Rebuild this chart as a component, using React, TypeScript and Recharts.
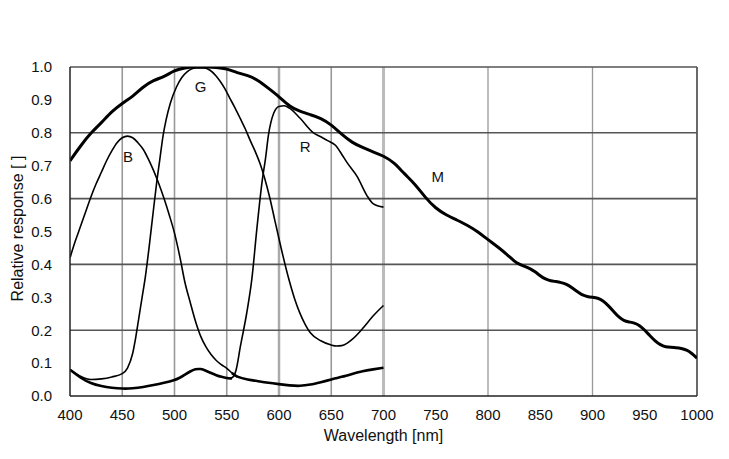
import React from 'react';
import { LineChart, Line, XAxis, YAxis, ReferenceLine, ReferenceDot } from 'recharts';

type P = { nm: number; v: number };
const mk = (rows: number[][]): P[] => rows.map(([nm, v]) => ({ nm, v }));

const xTicks = [400, 450, 500, 550, 600, 650, 700, 750, 800, 850, 900, 950, 1000];
const yTicks = [0, 0.1, 0.2, 0.3, 0.4, 0.5, 0.6, 0.7, 0.8, 0.9, 1.0];
const hGrid = [0.2, 0.4, 0.6, 0.8, 1.0];
const vGridLeft = [450, 500, 550, 600, 650];
const vGridRight = [800, 900];

const monoM = mk([
  [400, 0.715], [410, 0.76], [420, 0.8], [430, 0.83], [440, 0.865], [450, 0.89], [460, 0.91],
  [470, 0.94], [480, 0.96], [490, 0.97], [500, 0.99], [510, 0.998], [520, 1.0], [530, 1.0],
  [540, 0.999], [550, 0.995], [560, 0.982], [570, 0.975], [580, 0.96], [590, 0.935], [600, 0.91],
  [610, 0.88], [620, 0.865], [630, 0.855], [640, 0.845], [650, 0.825], [660, 0.795], [670, 0.77],
  [680, 0.755], [690, 0.742], [700, 0.73], [710, 0.71], [720, 0.675], [730, 0.645], [740, 0.603],
  [750, 0.57], [760, 0.55], [770, 0.535], [780, 0.52], [790, 0.5], [800, 0.475], [810, 0.452],
  [820, 0.425], [825, 0.41], [830, 0.4], [835, 0.394], [840, 0.388], [845, 0.378], [850, 0.365],
  [855, 0.355], [860, 0.35], [865, 0.348], [870, 0.345], [875, 0.34], [880, 0.33], [885, 0.318],
  [890, 0.307], [895, 0.302], [900, 0.3], [905, 0.298], [910, 0.29], [915, 0.275], [920, 0.258],
  [925, 0.24], [930, 0.229], [935, 0.225], [940, 0.222], [945, 0.215], [950, 0.2], [955, 0.183],
  [960, 0.167], [965, 0.155], [970, 0.149], [975, 0.148], [980, 0.147], [985, 0.145], [990, 0.14],
  [995, 0.13], [1000, 0.115],
]);

const greenCurve = mk([
  [400, 0.08], [410, 0.06], [420, 0.05], [430, 0.052], [440, 0.058], [450, 0.068], [455, 0.085],
  [460, 0.13], [463, 0.18], [466, 0.24], [469, 0.3], [472, 0.36], [476, 0.46], [480, 0.57],
  [483, 0.65], [486, 0.72], [489, 0.79], [492, 0.84], [496, 0.89], [502, 0.94], [507, 0.968],
  [512, 0.985], [520, 0.997], [528, 0.997], [534, 0.99], [540, 0.972], [544, 0.955], [548, 0.935],
  [553, 0.905], [558, 0.875], [563, 0.843], [568, 0.81], [572, 0.78], [577, 0.745], [582, 0.705],
  [586, 0.665], [591, 0.605], [596, 0.534], [602, 0.45], [609, 0.36], [615, 0.295], [620, 0.252],
  [625, 0.218], [630, 0.192], [640, 0.168], [650, 0.155], [655, 0.152], [660, 0.153], [665, 0.16],
  [670, 0.172], [680, 0.205], [690, 0.243], [700, 0.275],
]);

const blueMain = mk([
  [400, 0.42], [405, 0.47], [410, 0.515], [415, 0.56], [420, 0.605], [425, 0.645], [430, 0.68],
  [435, 0.715], [440, 0.745], [445, 0.77], [450, 0.785], [455, 0.79], [460, 0.785], [465, 0.77],
  [470, 0.75], [475, 0.72], [480, 0.685], [485, 0.645], [490, 0.6], [495, 0.55], [500, 0.495],
  [505, 0.425], [510, 0.345], [515, 0.285], [520, 0.228], [525, 0.182], [530, 0.15], [535, 0.126],
  [540, 0.108], [545, 0.095], [550, 0.084], [555, 0.07], [560, 0.057],
]);

const blueTail = mk([
  [555, 0.07], [560, 0.057], [570, 0.05], [580, 0.045], [590, 0.04], [600, 0.036], [610, 0.032],
  [620, 0.03], [630, 0.034], [640, 0.042], [650, 0.05], [660, 0.058], [670, 0.067], [680, 0.076],
  [690, 0.081], [700, 0.086],
]);

const redLow = mk([
  [400, 0.08], [410, 0.055], [420, 0.038], [430, 0.03], [440, 0.025], [450, 0.022], [460, 0.023],
  [470, 0.027], [480, 0.033], [490, 0.04], [500, 0.048], [505, 0.055], [510, 0.065], [515, 0.075],
  [520, 0.082], [525, 0.083], [530, 0.077], [535, 0.07], [540, 0.063], [545, 0.058], [550, 0.054],
  [555, 0.053],
]);

const redMain = mk([
  [550, 0.054], [553, 0.053], [556, 0.058], [559, 0.08], [563, 0.15], [569, 0.25], [574, 0.355],
  [579, 0.514], [584, 0.656], [587, 0.72], [590, 0.795], [595, 0.86], [600, 0.88], [605, 0.882],
  [610, 0.875], [620, 0.845], [633, 0.8], [640, 0.788], [646, 0.777], [654, 0.762], [660, 0.735],
  [665, 0.71], [675, 0.666], [684, 0.61], [690, 0.585], [700, 0.574],
]);

const curveLabels = [
  { text: 'G', nm: 525, v: 0.94 },
  { text: 'B', nm: 455.5, v: 0.726 },
  { text: 'R', nm: 625, v: 0.759 },
  { text: 'M', nm: 752, v: 0.668 },
];

const FONT = 'Liberation Sans, Arial, Helvetica, sans-serif';
const tickStyle = { fontFamily: FONT, fontSize: 15, fill: '#111' };

export default function App() {
  return (
    <div style={{ position: 'absolute', left: 0, top: 0, width: 729, height: 459, background: '#fff' }}>
      <LineChart width={729} height={459} margin={{ top: 67, right: 32, bottom: 33, left: 0 }}>
        <XAxis
          type="number"
          dataKey="nm"
          domain={[400, 1000]}
          ticks={xTicks}
          allowDataOverflow
          tickLine={false}
          tickSize={0}
          tickMargin={13}
          axisLine={{ stroke: '#222', strokeWidth: 1.5 }}
          tick={tickStyle}
          height={30}
          label={{ value: 'Wavelength [nm]', position: 'bottom', offset: 4, style: { fontFamily: FONT, fontSize: 16, fill: '#111' } }}
        />
        <YAxis
          type="number"
          dataKey="v"
          domain={[0, 1]}
          ticks={yTicks}
          allowDataOverflow
          tickLine={false}
          tickSize={0}
          tickMargin={18}
          tickFormatter={(v: number) => v.toFixed(1)}
          axisLine={{ stroke: '#222', strokeWidth: 1.5 }}
          tick={tickStyle}
          width={70}
          label={{ value: 'Relative response [ ]', angle: -90, position: 'center', dx: -18, dy: -3, style: { fontFamily: FONT, fontSize: 16, fill: '#111', textAnchor: 'middle' } }}
        />
        {vGridLeft.map((x) => (
          <ReferenceLine key={'vl' + x} x={x} stroke={x === 600 ? '#aaa' : '#999'} strokeWidth={x === 600 ? 2.5 : 1.6} />
        ))}
        {vGridRight.map((x) => (
          <ReferenceLine key={'vr' + x} x={x} stroke="#999" strokeWidth={1.3} />
        ))}
        <ReferenceLine x={700} stroke="#bbb" strokeWidth={3} />
        <ReferenceLine x={1000} stroke="#444" strokeWidth={1.6} />
        {hGrid.map((y) => (
          <ReferenceLine key={'h' + y} y={y} stroke="#555" strokeWidth={1.6} />
        ))}
        <Line data={redLow} dataKey="v" type="basis" stroke="#000" strokeWidth={2.6} dot={false} isAnimationActive={false} />
        <Line data={blueTail} dataKey="v" type="basis" stroke="#000" strokeWidth={2.6} dot={false} isAnimationActive={false} />
        <Line data={blueMain} dataKey="v" type="monotone" stroke="#000" strokeWidth={1.6} dot={false} isAnimationActive={false} />
        <Line data={greenCurve} dataKey="v" type="monotone" stroke="#000" strokeWidth={1.6} dot={false} isAnimationActive={false} />
        <Line data={redMain} dataKey="v" type="monotone" stroke="#000" strokeWidth={1.6} dot={false} isAnimationActive={false} />
        <Line data={monoM} dataKey="v" type="basis" stroke="#000" strokeWidth={3} dot={false} isAnimationActive={false} />
        {curveLabels.map((l) => (
          <ReferenceDot
            key={l.text}
            x={l.nm}
            y={l.v}
            r={1}
            fill="none"
            stroke="none"
            label={{ value: l.text, position: 'center', style: { fontFamily: FONT, fontSize: 15, fill: '#111' } }}
          />
        ))}
      </LineChart>
    </div>
  );
}
